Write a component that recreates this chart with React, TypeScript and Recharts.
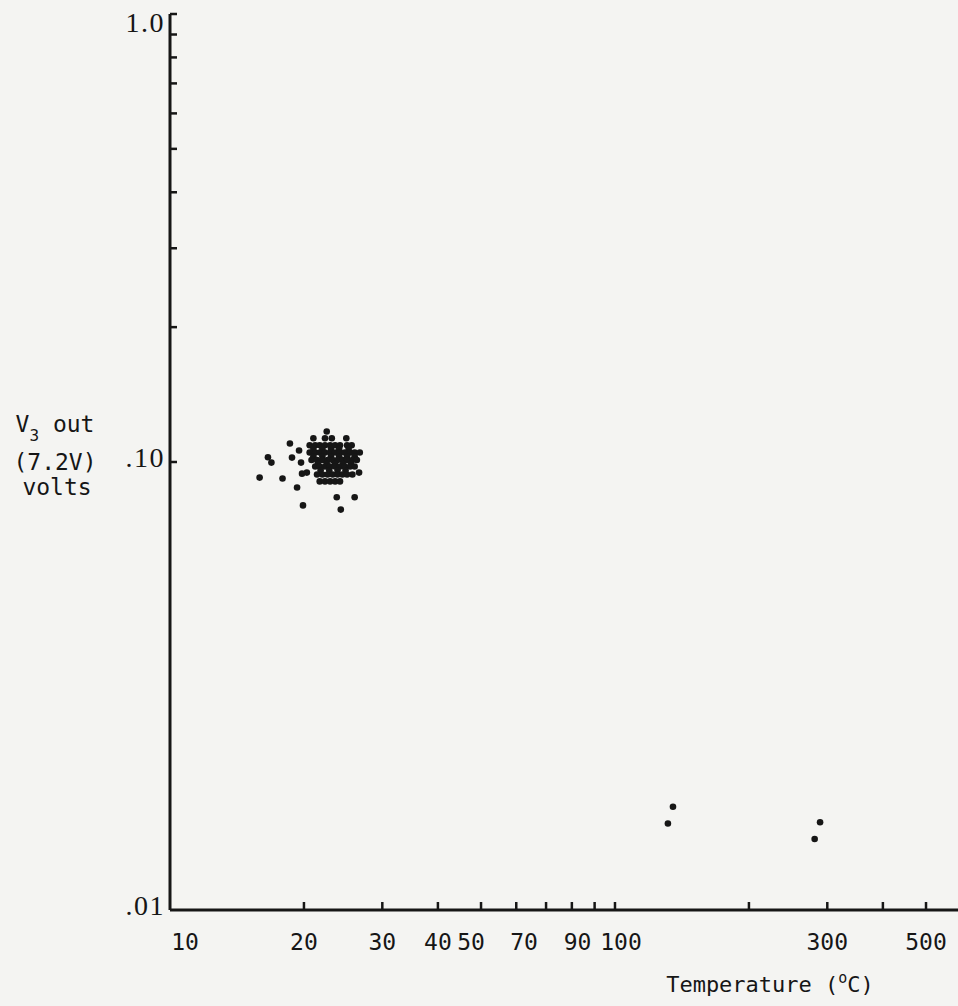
import { Scatter, ScatterChart, XAxis, YAxis } from "recharts";

// log-log paper: temperature (°C) vs V3 out (volts)
const tempTicks = [10, 20, 30, 40, 50, 60, 70, 80, 90, 100, 200, 300, 400, 500];
const tempLabels = [10, 20, 30, 40, 50, 70, 90, 100, 300, 500];
const voltTicks = [0.01, 0.1, 0.2, 0.3, 0.4, 0.5, 0.6, 0.7, 0.8, 0.9, 1];
const voltLabelValues = [0.01, 0.1, 1];
const voltLabelText = [".01", ".10", "1.0"];

// room temperature readings, dense group near 0.1 V
const roomReadings: [number, number][] = [
  [21.0, 0.113], [22.3, 0.113], [23.1, 0.113], [24.9, 0.113], [22.5, 0.117],
  [20.6, 0.109], [21.2, 0.109], [21.7, 0.109], [22.3, 0.109], [22.9, 0.109],
  [23.5, 0.109], [24.1, 0.109], [25.0, 0.109], [25.6, 0.109],
  [21.0, 0.107], [22.0, 0.107], [23.0, 0.107], [24.0, 0.107], [25.2, 0.107],
  [20.6, 0.105], [21.2, 0.105], [21.7, 0.105], [22.3, 0.105], [22.9, 0.105],
  [23.5, 0.105], [24.1, 0.105], [24.7, 0.105], [25.4, 0.105], [26.0, 0.105], [26.7, 0.105],
  [21.0, 0.103], [22.0, 0.103], [23.0, 0.103], [24.0, 0.103], [25.0, 0.103], [26.0, 0.103],
  [20.8, 0.101], [21.4, 0.101], [22.0, 0.101], [22.6, 0.101], [23.2, 0.101],
  [23.8, 0.101], [24.4, 0.101], [25.0, 0.101], [25.7, 0.101], [26.3, 0.101],
  [21.5, 0.099], [22.5, 0.099], [23.5, 0.099], [24.5, 0.099], [25.5, 0.099],
  [21.2, 0.0977], [21.7, 0.0977], [22.3, 0.0977], [22.9, 0.0977], [23.5, 0.0977],
  [24.1, 0.0977], [24.7, 0.0977], [25.4, 0.0977], [26.0, 0.0977],
  [21.8, 0.0958], [22.8, 0.0958], [23.8, 0.0958], [24.8, 0.0958],
  [21.4, 0.0938], [22.0, 0.0938], [22.6, 0.0938], [23.2, 0.0938], [23.8, 0.0938],
  [24.4, 0.0938], [25.0, 0.0938], [25.7, 0.0938],
  [21.7, 0.0905], [22.3, 0.0905], [22.9, 0.0905], [23.5, 0.0905], [24.1, 0.0905]
];

// scattered readings around the group
const strayReadings: [number, number][] = [
  [15.9, 0.0923], [16.6, 0.1025], [16.9, 0.0997], [17.9, 0.0919], [18.6, 0.11],
  [18.8, 0.1023], [19.5, 0.1061], [19.7, 0.0997], [19.8, 0.0942], [20.3, 0.0947],
  [19.3, 0.0877], [19.9, 0.08], [23.7, 0.0834], [26.0, 0.0834], [24.2, 0.0783],
  [26.6, 0.0947]
];

// high temperature readings
const hotReadings: [number, number][] = [
  [135, 0.017], [131.5, 0.0156], [289, 0.0157], [281, 0.0144]
];

const toPoints = (rows: [number, number][]) => rows.map(([t, v]) => ({ t, v }));

const INK = "#161616";
const labelShift: Record<number, number> = { 10: 15, 50: -10, 70: -22, 90: -17, 100: 6 };

function TempTick(props: any) {
  const { x, y, payload } = props;
  const value = payload.value;
  return (
    <g>
      {value > 10 && (
        <line x1={x} x2={x} y1={y} y2={y - 8} stroke={INK} strokeWidth={2.5} />
      )}
      {tempLabels.includes(value) && (
        <text
          x={x + (labelShift[value] ?? 0)}
          y={y + 40}
          textAnchor="middle"
          fill={INK}
          fontFamily="'DejaVu Sans Mono', monospace"
          fontSize={23}
        >
          {value}
        </text>
      )}
    </g>
  );
}

function VoltTick(props: any) {
  const { x, y, payload } = props;
  const value = payload.value;
  const idx = voltLabelValues.indexOf(value);
  return (
    <g>
      {value > 0.01 && (
        <line x1={x} x2={x + 7} y1={y} y2={y} stroke={INK} strokeWidth={2.5} />
      )}
      {idx >= 0 && (
        <text
          x={x - 5}
          y={y + (value === 1 ? 18 : 5)}
          textAnchor="end"
          fill={INK}
          fontFamily="'Liberation Serif', serif"
          fontSize={28}
          letterSpacing={1.5}
        >
          {voltLabelText[idx]}
        </text>
      )}
    </g>
  );
}

const dot = (p: any) => <circle cx={p.cx} cy={p.cy} r={3.3} fill={INK} />;

export default function App() {
  return (
    <div
      style={{
        position: "absolute",
        left: 0,
        top: 0,
        width: 958,
        height: 1006,
        background: "#f4f4f2"
      }}
    >
      <ScatterChart
        width={958}
        height={1006}
        margin={{ top: 14, right: 0, bottom: 36, left: 0 }}
      >
        <XAxis
          type="number"
          dataKey="t"
          scale="log"
          domain={[10, 590]}
          ticks={tempTicks}
          interval={0}
          allowDataOverflow
          height={60}
          tickSize={0}
          tickMargin={0}
          tickLine={false}
          axisLine={{ stroke: INK, strokeWidth: 3 }}
          tick={<TempTick />}
          label={{
            content: (p: any) => {
              const vb = p.viewBox;
              return (
                <text
                  x={vb.x + 600}
                  y={vb.y + 82}
                  textAnchor="middle"
                  fill={INK}
                  fontFamily="'DejaVu Sans Mono', monospace"
                  fontSize={22}
                >
                  Temperature (
                  <tspan dy={-9} fontSize={15}>o</tspan>
                  <tspan dy={9}>C)</tspan>
                </text>
              );
            }
          }}
        />
        <YAxis
          type="number"
          dataKey="v"
          scale="log"
          domain={[0.01, 1]}
          ticks={voltTicks}
          interval={0}
          allowDataOverflow
          width={170}
          tickSize={0}
          tickMargin={0}
          tickLine={false}
          axisLine={{ stroke: INK, strokeWidth: 3 }}
          tick={<VoltTick />}
          label={{
            content: () => (
              <g fill={INK} fontFamily="'DejaVu Sans Mono', monospace" fontSize={23}>
                <text x={55} y={432} textAnchor="middle">
                  V<tspan dy={9} fontSize={16}>3</tspan>
                  <tspan dy={-9}> out</tspan>
                </text>
                <text x={55} y={470} textAnchor="middle">(7.2V)</text>
                <text x={57} y={495} textAnchor="middle">volts</text>
              </g>
            )
          }}
        />
        <Scatter data={toPoints(roomReadings)} shape={dot} isAnimationActive={false} />
        <Scatter data={toPoints(strayReadings)} shape={dot} isAnimationActive={false} />
        <Scatter data={toPoints(hotReadings)} shape={dot} isAnimationActive={false} />
      </ScatterChart>
    </div>
  );
}
